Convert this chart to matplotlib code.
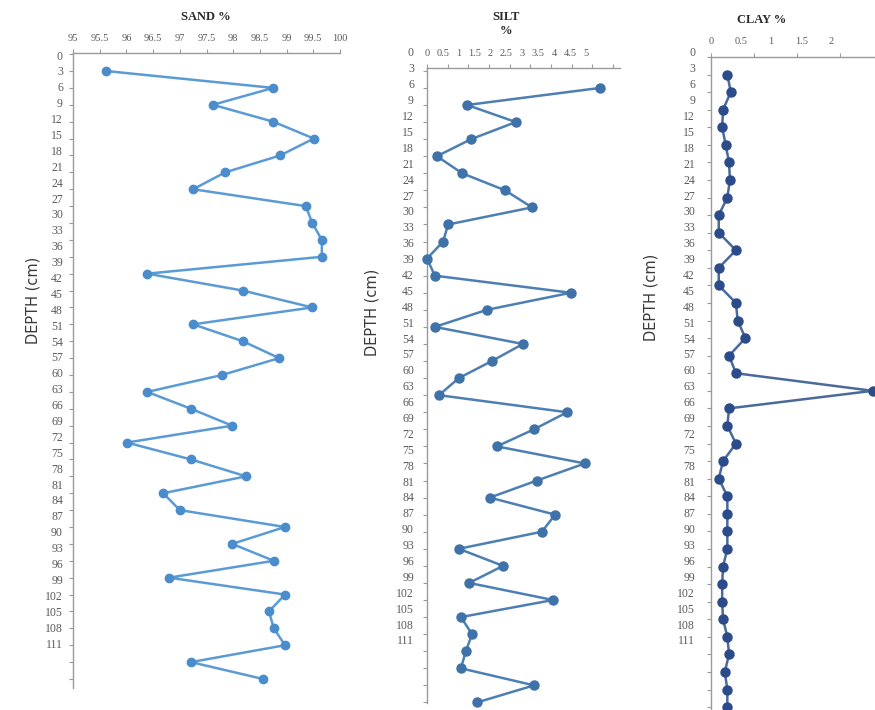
import numpy as np
import matplotlib.pyplot as plt

# profondità dei campioni (cm) e valori
depth = np.arange(3, 112, 3)
depth_labels = np.arange(0, 112, 3)

sand = [95.62, 98.75, 97.62, 98.75, 99.51, 98.88, 97.85, 97.25, 99.36, 99.48,
        99.66, 99.66, 96.39, 98.18, 99.48, 97.25, 98.18, 98.86, 97.79, 96.39,
        97.21, 97.98, 96.01, 97.21, 98.24, 96.69, 97.00, 98.97, 97.98, 98.76,
        96.80, 98.97, 98.67, 98.76, 98.97, 97.21, 98.56]
silt = [4.19, 0.97, 2.15, 1.07, 0.24, 0.85, 1.89, 2.54, 0.51, 0.39,
        0.00, 0.19, 3.48, 1.45, 0.19, 2.32, 1.57, 0.77, 0.29, 3.39,
        2.59, 1.69, 3.82, 2.66, 1.52, 3.10, 2.78, 0.77, 1.84, 1.02,
        3.05, 0.82, 1.09, 0.94, 0.82, 2.59, 1.21]
clay = [0.19, 0.23, 0.14, 0.13, 0.17, 0.21, 0.22, 0.19, 0.09, 0.09,
        0.29, 0.09, 0.09, 0.29, 0.31, 0.40, 0.21, 0.29, 1.88, 0.21,
        0.19, 0.29, 0.14, 0.09, 0.19, 0.19, 0.19, 0.19, 0.14, 0.13,
        0.13, 0.14, 0.19, 0.21, 0.16, 0.19, 0.19]

sand_ticklabels = np.arange(95, 100.01, 0.5)
silt_ticklabels = np.arange(0, 5.01, 0.5)
clay_ticklabels = np.arange(0, 2.01, 0.5)

W, H = 875, 710
fig = plt.figure(figsize=(W / 100, H / 100), dpi=100)
plt.rcParams['font.family'] = ['Liberation Serif', 'DejaVu Serif']

def box(l, t, r, b):
    return [l / W, 1 - b / H, (r - l) / W, (b - t) / H]

grigio = '#9a9a9a'
testo = '#5a5a5a'

pannelli = [
    dict(vals=sand, main=(73, 53, 340, 688), xlim=(95, 100), ylim=(112.6, -0.2),
         xticks=np.arange(95, 100.01, 0.5), k=1.0, labs=sand_ticklabels, xpad=7,
         lab=(63, 55, 643), line='#5b9bd5', mark='#4a8ccc', ms=6,
         title='SAND %', tpos=(206, 17), dpos=(33, 300)),
    dict(vals=silt, main=(427, 68, 620, 703), xlim=(0, 4.67), ylim=(111.1, -0.5),
         xticks=np.arange(0, 4.51, 0.5), k=1.30, labs=silt_ticklabels, xpad=7,
         lab=(414, 52, 640), line='#4d7fb3', mark='#3f72a8', ms=6.5,
         title='SILT\n%', tpos=(506, 24), dpos=(372, 312)),
    dict(vals=clay, main=(711, 57, 875, 710), xlim=(0, 1.907), ylim=(111.5, 0.1),
         xticks=np.arange(0, 1.51, 0.5), k=1.43, labs=clay_ticklabels, xpad=8,
         lab=(695, 52, 640), line='#4a6a9c', mark='#2c4b8a', ms=6.5,
         title='CLAY %', tpos=(762, 20), dpos=(651, 297)),
]

for p in pannelli:
    ax = fig.add_axes(box(*p['main']))
    ax.plot(p['vals'], depth, color=p['line'], lw=1.8, marker='o', ms=p['ms'],
            mfc=p['mark'], mec=p['mark'], clip_on=False, zorder=3)
    ax.set_xlim(*p['xlim'])
    ax.set_ylim(*p['ylim'])
    ax.patch.set_alpha(0)
    for s in ['bottom', 'right']:
        ax.spines[s].set_visible(False)
    for s in ['top', 'left']:
        ax.spines[s].set_color(grigio)
        ax.spines[s].set_linewidth(1.0)
    ax.xaxis.tick_top()
    ax.set_xticks(p['xticks'])
    ax.set_xticklabels([])
    ax.set_yticks(depth_labels)
    ax.set_yticklabels([])
    ax.tick_params(axis='both', length=3, width=0.8, color=grigio)

    k = p['k']
    sec = ax.secondary_xaxis('top', functions=(lambda x, k=k: x * k, lambda v, k=k: v / k))
    sec.set_xticks(p['labs'])
    sec.set_xticklabels([f'{v:g}' for v in p['labs']])
    sec.tick_params(length=0, pad=p['xpad'], labelsize=7.5, labelcolor=testo)
    sec.spines['top'].set_visible(False)

    # etichette di profondità (scala leggermente diversa da quella dei punti)
    r, t, b = p['lab']
    lab = fig.add_axes(box(r, t, r + 1, b))
    lab.set_ylim(111, 0)
    lab.set_yticks(depth_labels)
    lab.set_yticklabels([str(v) for v in depth_labels])
    lab.set_xticks([])
    lab.set_frame_on(False)
    lab.tick_params(axis='y', length=0, pad=0, labelsize=8.5, labelcolor=testo)

    fig.text(p['tpos'][0] / W, 1 - p['tpos'][1] / H, p['title'], ha='center', va='center',
             fontsize=9, fontweight='bold', color='#2a2a2a', linespacing=1.3)
    fig.text(p['dpos'][0] / W, 1 - p['dpos'][1] / H, 'DEPTH (cm)', rotation=90,
             ha='center', va='center', fontsize=10.5, color='#3a3a3a', family='DejaVu Sans')

fig.savefig('out.png', dpi=100)
